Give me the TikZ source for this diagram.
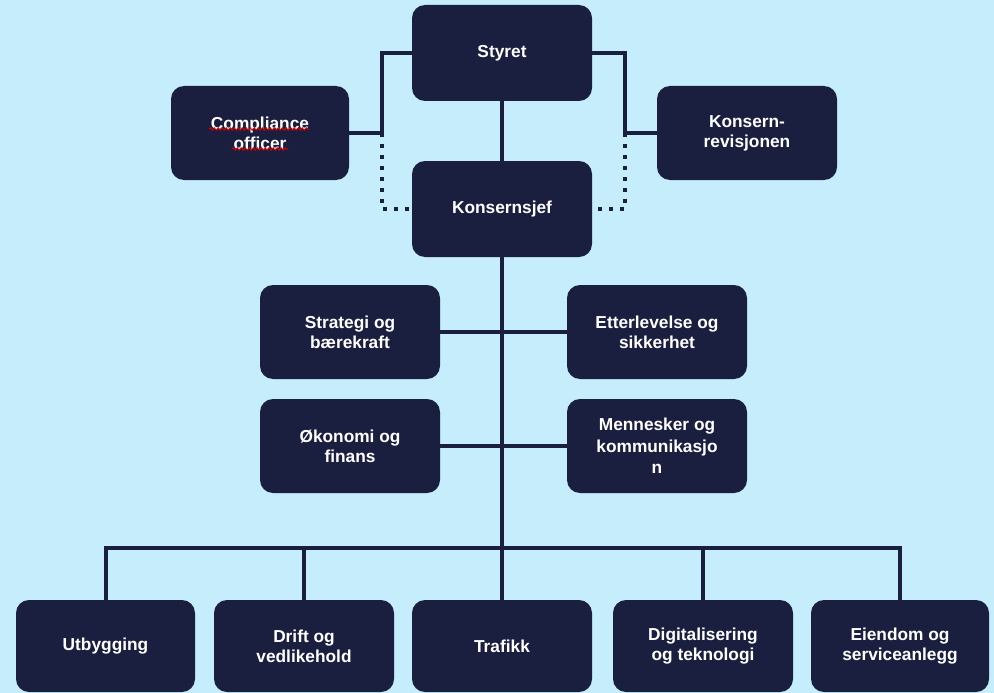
\documentclass[tikz,border=0pt]{standalone}
\usepackage{fontspec}
\setmainfont{Liberation Sans}
\usetikzlibrary{decorations.pathmorphing}
\definecolor{bgblue}{RGB}{197,237,252}
\definecolor{navy}{RGB}{26,31,64}
\tikzset{
  box/.style={draw=none, fill=navy, rounded corners=13pt, text=white,
    font=\fontsize{17.3}{20}\selectfont\bfseries, align=center,
    minimum width=180pt, minimum height=94pt, inner sep=2pt},
  link/.style={draw=navy, line width=4pt},
  dots/.style={draw=navy, line width=4pt, dash pattern=on 4pt off 7pt},
  squig/.style={draw=red!85!black, line width=1pt, decorate,
    decoration={snake, amplitude=1.1pt, segment length=4pt}}
}
\begin{document}
\begin{tikzpicture}[x=1pt,y=-1pt]
\fill[bgblue] (0,0) rectangle (994,693);
\useasboundingbox (0,0) rectangle (994,693);

\node[box, minimum height=96pt] (styret) at (502,53) {Styret};
\node[box, minimum width=178pt] (comp) at (260,133) {Compliance\\officer};
\node[box] (rev) at (747,133) {Konsern-\\revisjonen};
\node[box, minimum height=96pt] (sjef) at (502,209) {Konsernsjef};

\node[box] (strat) at (350,332) {Strategi og\\bærekraft};
\node[box] (etter) at (657,332) {Etterlevelse og\\sikkerhet};
\node[box] (okon) at (350,446) {Økonomi og\\finans};
\node[box, font=\fontsize{17.3}{21.5}\selectfont\bfseries] (menn) at (657,446) {Mennesker og\\kommunikasjo\\n};

\node[box, minimum height=92pt, minimum width=179pt] (utb) at (105.5,646) {Utbygging};
\node[box, minimum height=92pt] (drift) at (304,646) {Drift og\\vedlikehold};
\node[box, minimum height=92pt] (traf) at (502,646) {Trafikk};
\node[box, minimum height=92pt] (dig) at (703,646) {Digitalisering\\og teknologi};
\node[box, minimum height=92pt, minimum width=178pt] (eien) at (900,646) {Eiendom og\\serviceanlegg};

% spell-check squiggles
\draw[squig] (209,129) -- (309,129);
\draw[squig] (232,149) -- (288,149);

\coordinate (jl) at (382,133);
\coordinate (jr) at (625,133);
\coordinate (bus) at (502,548);

\draw[link] (styret.west) -| (jl) -- (comp.east);
\draw[link] (styret.east) -| (jr) -- (rev.west);
\draw[dots] (jl) |- (sjef.west);
\draw[dots] (jr) |- (sjef.east);
\draw[link] (styret.south) -- (sjef.north);
\draw[link] (sjef.south) -- (bus);
\draw[link] (strat.east) -- (etter.west);
\draw[link] (okon.east) -- (menn.west);
\draw[link, line cap=rect] (bus -| utb) -- (bus -| eien);
\foreach \n in {utb,drift,traf,dig,eien}
  \draw[link] (bus -| \n) -- (\n.north);
\end{tikzpicture}
\end{document}
